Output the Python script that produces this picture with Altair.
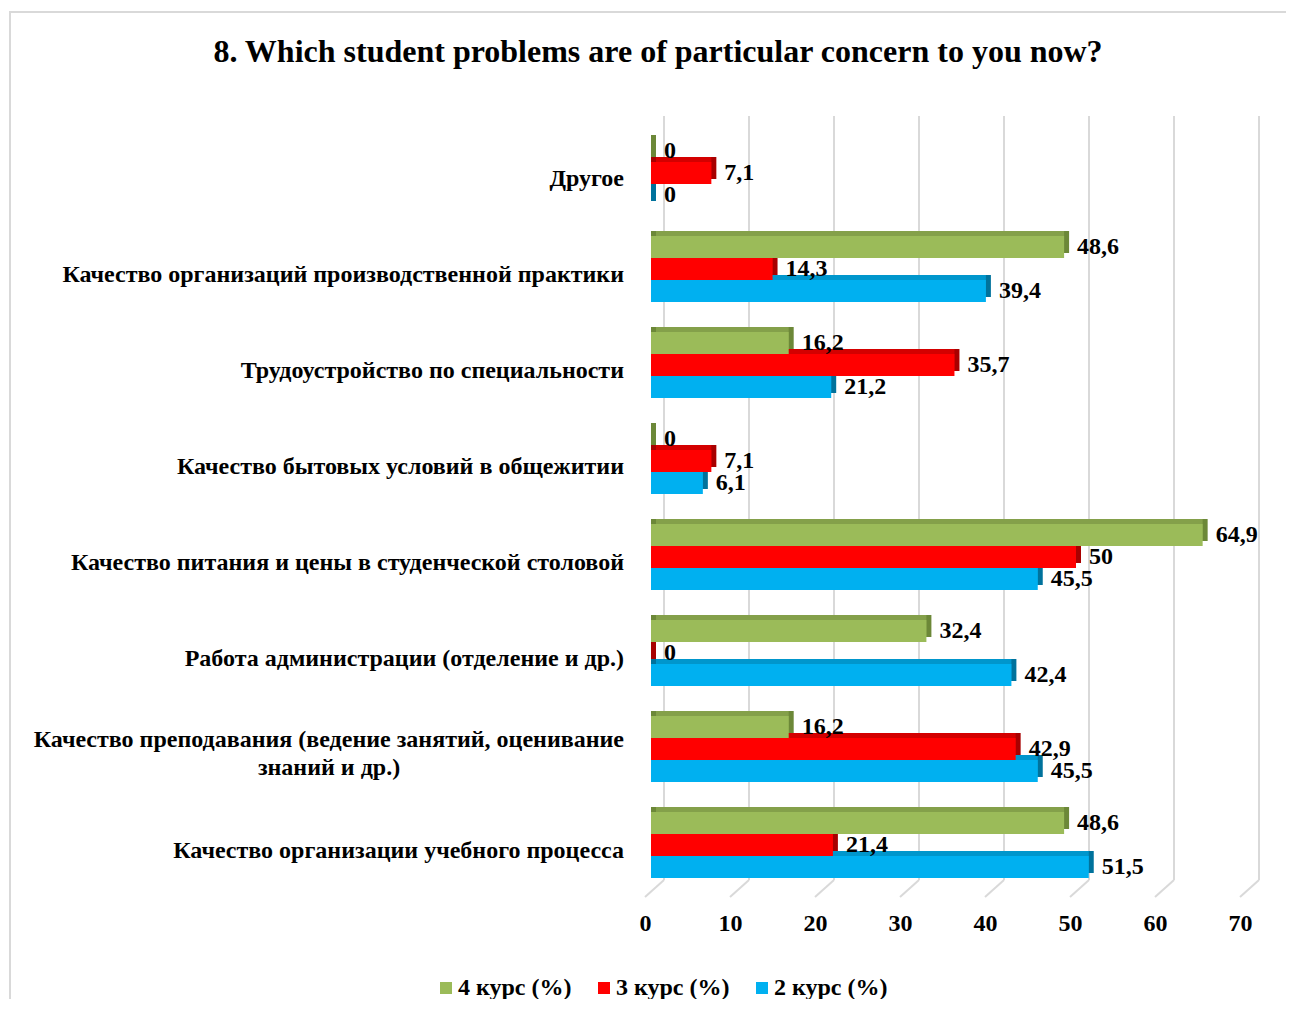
import altair as alt
import pandas as pd

FONT = "Liberation Serif"

title_text = "8. Which student problems are of particular concern to you now?"

categories = [
    "Другое",
    "Качество организаций производственной практики",
    "Трудоустройство по специальности",
    "Качество бытовых условий в общежитии",
    "Качество питания и цены в студенческой столовой",
    "Работа администрации (отделение и др.)",
    "Качество преподавания (ведение занятий, оценивание\nзнаний и др.)",
    "Качество организации учебного процесса",
]
series = ["4 курс (%)", "3 курс (%)", "2 курс (%)"]
course4 = [0, 48.6, 16.2, 0, 64.9, 32.4, 16.2, 48.6]
course3 = [7.1, 14.3, 35.7, 7.1, 50, 0, 42.9, 21.4]
course2 = [0, 39.4, 21.2, 6.1, 45.5, 42.4, 45.5, 51.5]
ticks = [0, 10, 20, 30, 40, 50, 60, 70]

front_colors = ["#9BBB59", "#FF0000", "#00B0F0"]
top_colors = ["#84A04A", "#D40000", "#0096CC"]
side_colors = ["#6C8838", "#A80000", "#00729C"]

rows = []
for s, vals, tc, sc in zip(series, [course4, course3, course2], top_colors, side_colors):
    for c, v in zip(categories, vals):
        lbl = f"{v:g}".replace(".", ",")
        rows.append({"cat": c, "series": s, "value": v, "zero": 0, "label": lbl, "topc": tc, "sidec": sc})
df = pd.DataFrame(rows)

cat_rows = []
for c in categories:
    parts = c.split("\n")
    cat_rows.append({"cat": c, "l1": parts[0], "l2": parts[1] if len(parts) > 1 else ""})
cdf = pd.DataFrame(cat_rows)
tdf = pd.DataFrame({"tick": ticks})

W, H = 595, 768
DEPTH = 5

xscale = alt.Scale(domain=[0, 70], nice=False, zero=True)
xaxis = alt.Axis(values=ticks, labelFont=FONT, labelFontSize=24, labelFontWeight="bold",
                 labelColor="black", labelPadding=18, labelOffset=-6, labelFlush=False,
                 ticks=False, domain=False, grid=False, title=None)


def yenc(shift=0):
    return alt.Y("cat:N", sort=categories,
                 scale=alt.Scale(domain=categories, range=[-shift, H - shift],
                                 paddingInner=0, paddingOuter=0),
                 axis=None)


yoff = alt.YOffset("series:N", sort=series,
                   scale=alt.Scale(type="band", domain=series, paddingInner=0, paddingOuter=0.68))

border = alt.Chart(pd.DataFrame({"a": [1]})).mark_rect(
    filled=False, stroke="#D9D9D9", strokeWidth=2
).encode(x=alt.value(-641), x2=alt.value(700), y=alt.value(-113), y2=alt.value(950))

grid = alt.Chart(tdf).mark_rule(color="#D9D9D9", strokeWidth=2, xOffset=13).encode(
    x=alt.X("tick:Q", scale=xscale, axis=xaxis), y=alt.value(-9), y2=alt.value(755)
)
floor = alt.Chart(tdf).mark_rule(color="#D9D9D9", strokeWidth=2, xOffset=13, x2Offset=-6).encode(
    x=alt.X("tick:Q", scale=xscale, axis=xaxis), x2="tick:Q", y=alt.value(755), y2=alt.value(772)
)

base = alt.Chart(df)

side = base.mark_bar(xOffset=0, x2Offset=DEPTH).encode(
    x=alt.X("zero:Q", scale=xscale, axis=xaxis), x2=alt.X2("value:Q"),
    y=yenc(DEPTH), yOffset=yoff, color=alt.Color("sidec:N", scale=None)
)

top = base.transform_filter("datum.value > 1").mark_bar(xOffset=DEPTH).encode(
    x=alt.X("zero:Q", scale=xscale, axis=xaxis), x2=alt.X2("value:Q"),
    y=yenc(DEPTH), yOffset=yoff, color=alt.Color("topc:N", scale=None)
)

front = base.mark_bar().encode(
    x=alt.X("zero:Q", scale=xscale, axis=xaxis), x2=alt.X2("value:Q"),
    y=yenc(0), yOffset=yoff,
    color=alt.Color(
        "series:N", sort=series, scale=alt.Scale(domain=series, range=front_colors),
        legend=alt.Legend(orient="none", legendX=-217, legendY=851, direction="horizontal",
                          title=None, symbolType="square", symbolSize=144, symbolStrokeWidth=0,
                          labelFont=FONT, labelFontSize=24, labelFontWeight="bold",
                          labelColor="black", columnPadding=20, labelOffset=0, padding=0),
    ),
)

values = base.mark_text(align="left", baseline="middle", dx=13, font=FONT, fontSize=24,
                        fontWeight="bold", color="black").encode(
    x=alt.X("value:Q", scale=xscale, axis=xaxis), y=yenc(0), yOffset=yoff, text="label:N"
)

cat_single = alt.Chart(cdf).transform_filter("datum.l2 == ''").mark_text(
    align="right", baseline="middle", dy=6, font=FONT, fontSize=24, fontWeight="bold", color="black"
).encode(x=alt.value(-27), y=yenc(0), text="l1:N")
cat_l1 = alt.Chart(cdf).transform_filter("datum.l2 != ''").mark_text(
    align="right", baseline="middle", dy=-9, font=FONT, fontSize=24, fontWeight="bold", color="black"
).encode(x=alt.value(-27), y=yenc(0), text="l1:N")
cat_l2 = alt.Chart(cdf).transform_filter("datum.l2 != ''").mark_text(
    align="center", baseline="middle", dy=19, font=FONT, fontSize=24, fontWeight="bold", color="black"
).encode(x=alt.value(-322), y=yenc(0), text="l2:N")

title = alt.Chart(pd.DataFrame({"t": [title_text]})).mark_text(
    align="center", baseline="middle", font=FONT, fontSize=32, fontWeight="bold", color="black"
).encode(x=alt.value(7), y=alt.value(-73), text="t:N")

chart = alt.layer(
    border, grid, floor, side, top, front, values, cat_single, cat_l1, cat_l2, title
).resolve_scale(
    y="independent", yOffset="independent"
).properties(
    width=W, height=H,
    autosize=alt.AutoSizeParams(type="none"),
    padding={"left": 643, "top": 117, "right": 40, "bottom": 106},
).configure_view(stroke=None)

chart.save("out.html", embed_options={"renderer": "svg", "actions": False})
